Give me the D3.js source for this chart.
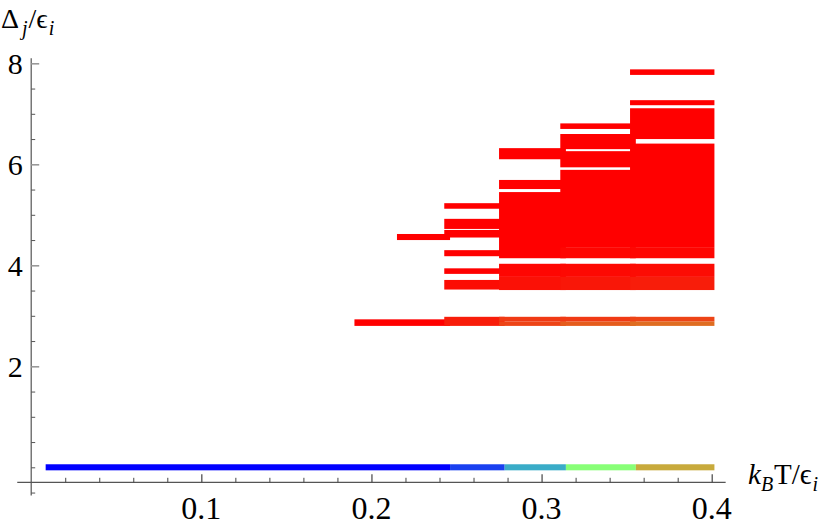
<!DOCTYPE html>
<html><head><meta charset="utf-8">
<script src="https://cdn.jsdelivr.net/npm/d3@7"></script>
<style>body{margin:0;background:#fff} svg{display:block}</style>
</head><body><svg id="c" width="830" height="526"></svg>
<script>
// ground state (Δ = 0) segments: temperature edges and occupation weights
const groundEdges = [0.0085, 0.2462, 0.2783, 0.3143, 0.3554, 0.4016];
const groundWeights = [1.0, 0.9, 0.75, 0.6, 0.45];
const groundHalf = 0.06;

// excited bands per temperature interval: [tStart, tEnd, ΔLow, ΔHigh, weight]
const bands1 = [
  [0.19, 0.2462, 2.80, 2.93, 0],
  [0.215, 0.2462, 4.50, 4.62, 0]
];
const bands2 = [
  [0.2428, 0.2783, 2.80, 2.98, 0.05],
  [0.2428, 0.2783, 3.52, 3.71, 0.02],
  [0.2428, 0.2783, 3.83, 3.94, 0],
  [0.2428, 0.2783, 4.18, 4.30, 0],
  [0.2428, 0.2783, 4.55, 4.70, 0],
  [0.2428, 0.2783, 4.72, 4.92, 0],
  [0.2428, 0.2783, 5.12, 5.23, 0]
];
const bands3 = [
  [0.275, 0.3143, 2.80, 2.89, 0.12],
  [0.275, 0.3143, 2.89, 2.98, 0.10],
  [0.275, 0.3143, 3.51, 3.77, 0.03],
  [0.275, 0.3143, 3.77, 4.03, 0.01],
  [0.275, 0.3143, 4.14, 5.45, 0],
  [0.275, 0.3143, 5.51, 5.69, 0],
  [0.275, 0.3143, 6.10, 6.32, 0]
];
const bands4 = [
  [0.311, 0.3554, 2.80, 2.89, 0.17],
  [0.311, 0.3554, 2.89, 2.98, 0.10],
  [0.311, 0.3554, 3.51, 3.77, 0.04],
  [0.311, 0.3554, 3.77, 4.03, 0.015],
  [0.311, 0.3554, 4.14, 4.36, 0.01],
  [0.311, 0.3554, 4.36, 5.89, 0],
  [0.311, 0.3554, 5.94, 6.26, 0],
  [0.311, 0.3554, 6.30, 6.60, 0],
  [0.311, 0.3554, 6.70, 6.81, 0]
];
const bands5 = [
  [0.352, 0.4016, 2.80, 2.89, 0.21],
  [0.352, 0.4016, 2.89, 2.98, 0.12],
  [0.352, 0.4016, 3.51, 3.77, 0.05],
  [0.352, 0.4016, 3.77, 4.03, 0.02],
  [0.352, 0.4016, 4.14, 4.36, 0.01],
  [0.352, 0.4016, 4.36, 6.41, 0],
  [0.352, 0.4016, 6.50, 7.11, 0],
  [0.352, 0.4016, 7.17, 7.27, 0],
  [0.352, 0.4016, 7.77, 7.88, 0]
];

const xMajor = [0.1, 0.2, 0.3, 0.4];
const xMajorLabels = ["0.1", "0.2", "0.3", "0.4"];
const yMajor = [2, 4, 6, 8];
const yMajorLabels = ["2", "4", "6", "8"];

const svg = d3.select("#c");
const x = d3.scaleLinear().domain([0, 0.4]).range([31.2, 711.7]);
const y = d3.scaleLinear().domain([0, 8]).range([467.3, 63.3]);
const color = d3.scaleLinear()
  .domain([0, 0.1, 0.2, 0.45, 0.6, 0.75, 0.9, 1])
  .range(["#ff0000", "#f03a14", "#e06a20", "#c8aa3c", "#88ff77", "#3aacc8", "#1a40f0", "#0000ff"]);

const font = "'Liberation Serif','Times New Roman',serif";
const xAxisY = y(-0.297);

// bars
const allBands = [bands1, bands2, bands3, bands4, bands5];
allBands.forEach(bs => {
  svg.append("g").selectAll("rect").data(bs).join("rect")
    .attr("x", d => x(d[0]))
    .attr("width", d => x(d[1]) - x(d[0]))
    .attr("y", d => y(d[3]))
    .attr("height", d => y(d[2]) - y(d[3]))
    .attr("fill", d => color(d[4]));
});

const groundSegs = groundWeights.map((w, i) => [groundEdges[i], groundEdges[i + 1], w]);
svg.append("g").selectAll("rect").data(groundSegs).join("rect")
  .attr("x", d => x(d[0]))
  .attr("width", d => x(d[1]) - x(d[0]))
  .attr("y", y(groundHalf))
  .attr("height", y(-groundHalf) - y(groundHalf))
  .attr("fill", d => color(d[2]));

// x axis
svg.append("line")
  .attr("x1", x(-0.0082)).attr("x2", x(0.4082))
  .attr("y1", xAxisY).attr("y2", xAxisY)
  .attr("stroke", "#555").attr("stroke-width", 1.2);
const xMinor = d3.range(1, 21).map(i => i * 0.02).filter(v => !xMajor.some(m => Math.abs(m - v) < 1e-9));
const xMinorAxis = d3.axisBottom(x).tickValues(xMinor).tickSize(-4.5).tickFormat("").tickSizeOuter(0);
const gxm = svg.append("g").attr("transform", `translate(0,${xAxisY})`).call(xMinorAxis);
gxm.select(".domain").remove();
gxm.selectAll("line").attr("stroke", "#444").attr("stroke-width", 1);
const xMajorAxis = d3.axisBottom(x).tickValues(xMajor).tickSize(-8).tickFormat("").tickSizeOuter(0);
const gxM = svg.append("g").attr("transform", `translate(0,${xAxisY})`).call(xMajorAxis);
gxM.select(".domain").remove();
gxM.selectAll("line").attr("stroke", "#444").attr("stroke-width", 1.2);
svg.append("g").selectAll("text").data(xMajor).join("text")
  .attr("x", d => x(d)).attr("y", xAxisY + 36.7)
  .attr("text-anchor", "middle")
  .attr("font-family", font).attr("font-size", 32).attr("fill", "#000")
  .text((d, i) => xMajorLabels[i]);

// y axis
svg.append("line")
  .attr("x1", x(0)).attr("x2", x(0))
  .attr("y1", y(-0.56)).attr("y2", y(8.10))
  .attr("stroke", "#555").attr("stroke-width", 1.2);
const yMinor = d3.range(-1, 16).map(i => i * 0.5).filter(v => !yMajor.includes(v));
const yMinorAxis = d3.axisLeft(y).tickValues(yMinor).tickSize(-4).tickFormat("").tickSizeOuter(0);
const gym = svg.append("g").attr("transform", `translate(${x(0)},0)`).call(yMinorAxis);
gym.select(".domain").remove();
gym.selectAll("line").attr("stroke", "#555").attr("stroke-width", 1);
const yMajorAxis = d3.axisLeft(y).tickValues(yMajor).tickSize(-8).tickFormat("").tickSizeOuter(0);
const gyM = svg.append("g").attr("transform", `translate(${x(0)},0)`).call(yMajorAxis);
gyM.select(".domain").remove();
gyM.selectAll("line").attr("stroke", "#999").attr("stroke-width", 1.6);
svg.append("g").selectAll("text").data(yMajor).join("text")
  .attr("x", x(0) - 8.5).attr("y", d => y(d) + 11)
  .attr("text-anchor", "end")
  .attr("font-family", font).attr("font-size", 30).attr("fill", "#000")
  .text((d, i) => yMajorLabels[i]);

// axis titles
const yt = svg.append("text").attr("x", 1).attr("y", 28)
  .attr("font-family", font).attr("font-size", 28).attr("fill", "#000");
yt.append("tspan").text("Δ");
yt.append("tspan").attr("font-style", "italic").attr("font-size", 20).attr("dy", 7).attr("dx", 3).text("j");
yt.append("tspan").attr("dy", -7).attr("dx", 1).text("/ϵ");
yt.append("tspan").attr("font-style", "italic").attr("font-size", 20).attr("dy", 7).attr("dx", 1).text("i");

const xt = svg.append("text").attr("x", 748).attr("y", 484)
  .attr("font-family", font).attr("font-size", 29).attr("fill", "#000");
xt.append("tspan").attr("font-style", "italic").text("k");
xt.append("tspan").attr("font-style", "italic").attr("font-size", 20).attr("dy", 7).text("B");
xt.append("tspan").attr("dy", -7).attr("dx", 1).text("T/ϵ");
xt.append("tspan").attr("font-style", "italic").attr("font-size", 20).attr("dy", 7).attr("dx", 1).text("i");
</script></body></html>
